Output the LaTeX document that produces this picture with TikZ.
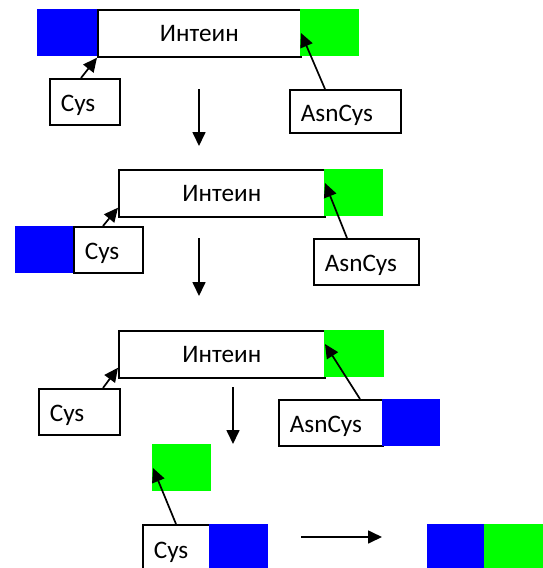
\documentclass[tikz,border=0pt]{standalone}
\usepackage{fontspec}
\setmainfont{Carlito}
\usetikzlibrary{arrows.meta,calc}
\definecolor{segblue}{RGB}{0,0,255}
\definecolor{seggreen}{RGB}{0,255,0}
\begin{document}
\begin{tikzpicture}[x=1pt,y=-1pt,
  txt/.style={font=\fontsize{25.2}{30}\selectfont},
  mainbox/.style={txt,draw=black,line width=1.7pt,fill=white,inner sep=0pt,
    anchor=north west,minimum width=#1,minimum height=47pt,text depth=0pt},
  tagbox/.style={txt,draw=black,line width=1.7pt,fill=white,inner xsep=11pt,inner ysep=0pt,
    anchor=north west,text width=#1-22pt,align=left,minimum height=46pt,
    text height=20pt,text depth=0pt},
  block/.style={fill=#1,draw=none,inner sep=0pt,anchor=north west,
    minimum width=59pt,minimum height=47pt},
  arr/.style={draw=black,line width=1.7pt,-{Triangle[length=14pt,width=13pt]}}
]
\useasboundingbox (0,0) rectangle (543,568);

% --- stage 1: precursor ---
\node[mainbox=203pt] (i1) at (97,9) {Интеин};
\node[block=segblue,minimum width=60pt] (b1) at (37,9) {};
\node[block=seggreen] (g1) at (300,9) {};
\node[tagbox=70pt] (c1) at (49,78) {Cys};
\node[tagbox=111pt,minimum height=43pt] (a1) at (289,89) {AsnCys};
\draw[arr] ($(c1.north west)+(32,0)$) -- (i1.south west);
\draw[arr] ($(a1.north west)+(36,0)$) -- ($(g1.north west)+(1,24)$);

% --- stage 2: N-extein released onto Cys ---
\node[mainbox=206pt] (i2) at (118,169) {Интеин};
\node[block=seggreen] (g2) at (324,169) {};
\node[tagbox=69pt] (c2) at (73,226) {Cys};
\node[block=segblue,minimum width=58pt] (b2) at (15,226) {};
\node[tagbox=105pt] (a2) at (313,238) {AsnCys};
\draw[arr] ($(c2.north west)+(30,0)$) -- ($(i2.south west)+(0,-10)$);
\draw[arr] ($(a2.north west)+(34,0)$) -- ($(g2.north west)+(1,14)$);

% --- stage 3: N-extein transferred to AsnCys ---
\node[mainbox=206pt] (i3) at (118,330) {Интеин};
\node[block=seggreen,minimum width=60pt] (g3) at (324,330) {};
\node[tagbox=81pt] (c3) at (38,388) {Cys};
\node[tagbox=104pt] (a3) at (278,399) {AsnCys};
\node[block=segblue,minimum width=58pt] (b3) at (382,399) {};
\draw[arr] ($(c3.north west)+(65,0)$) -- ($(i3.south west)+(0,-11)$);
\draw[arr] ($(a3.north west)+(82,0)$) -- ($(g3.north west)+(1,14)$);

% --- stage 4: spliced product ---
\node[block=seggreen] (g4) at (152,444) {};
\node[tagbox=67pt,minimum height=47pt] (c4) at (142,524) {Cys};
\node[block=segblue] (b4) at (209,524) {};
\draw[arr] ($(c4.north west)+(34,0)$) -- ($(g4.north west)+(1,24)$);

\node[block=segblue,minimum width=57pt] (bf) at (427,524) {};
\node[block=seggreen] (gf) at (484,524) {};

% --- step arrows ---
\coordinate (d1s) at (199,89);  \coordinate (d1e) at (199,146);
\coordinate (d2s) at (199,238); \coordinate (d2e) at (199,296);
\coordinate (d3s) at (233,387); \coordinate (d3e) at (233,444);
\coordinate (r1s) at (301,537); \coordinate (r1e) at (382,537);
\draw[arr] (d1s) -- (d1e);
\draw[arr] (d2s) -- (d2e);
\draw[arr] (d3s) -- (d3e);
\draw[arr] (r1s) -- (r1e);
\end{tikzpicture}
\end{document}
